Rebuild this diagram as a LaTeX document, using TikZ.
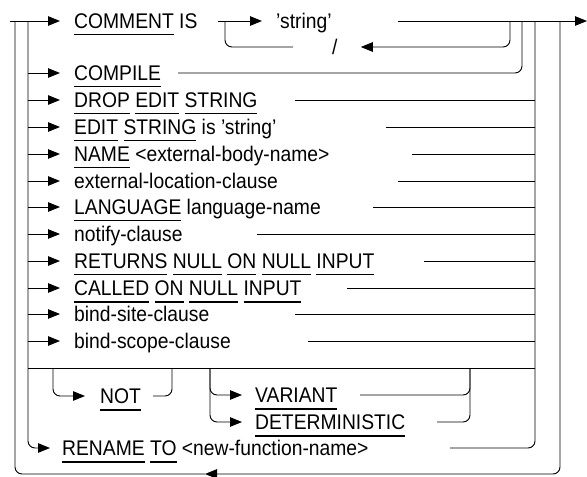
\documentclass[tikz,border=0pt]{standalone}
\usepackage{fontspec}
\setmainfont{Liberation Sans}[FakeStretch=0.91]
\usepackage{tikz}
\usetikzlibrary{arrows.meta, calc}

\newcommand{\kw}[1]{\setbox0=\hbox{#1}\rlap{\rule[-0.33em]{\wd0}{0.05em}}\box0\relax}

\tikzset{
    rail/.style={line width=0.95pt, rounded corners=7pt},
    arr/.style={rail, -{Triangle[length=12pt, width=9.5pt]}},
    syn/.style={anchor=west, inner sep=0pt, text height=15pt, text depth=0pt,
                font=\fontsize{21.2}{25}\selectfont}
}

\begin{document}
\begin{tikzpicture}[x=1pt, y=-1pt]
    \useasboundingbox (0,0) rectangle (587,477);
    \coordinate (in) at (10,21);
    \coordinate (out) at (587,21);
    \coordinate (oL) at (15,21);
    \coordinate (iL) at (28,21);
    \coordinate (lpL) at (225,21);
    \coordinate (lpR) at (510,21);
    \coordinate (cR) at (522,21);
    \coordinate (iR) at (535,21);
    \coordinate (oR) at (560,21);
    \coordinate (back) at (205,474);

    % COMMENT IS 'string' with repeat
    \node[syn] (comment) at (74,21) {\kw{COMMENT} IS};
    \node[syn] (str) at (276,21) {'string'};
    \node[syn] (slash) at (332,47) {/};
    \draw[arr] (in) -- ([xshift=-14pt]comment.west);
    \draw[arr] ([xshift=20pt]comment.east) -- ([xshift=-14pt]str.west);
    \draw[arr] ([xshift=66pt]str.east) -- (out);
    \draw[arr] (lpR) |- ([xshift=23pt]slash.east);
    \draw[rail] ([xshift=-39pt]slash.west) -| (lpL);

    \node[syn] (compile) at (74,73) {\kw{COMPILE}};
    \coordinate (compTail) at (178,73);
    \draw[arr] (iL |- compile.west) -- ([xshift=-14pt]compile.west);
    \draw[rail] (compTail) -| (cR);

    \foreach \y/\txt/\tail [count=\i] in {
        100/{\kw{DROP} \kw{EDIT} \kw{STRING}}/295,
        127/{\kw{EDIT} \kw{STRING} is 'string'}/386,
        154/{\kw{NAME} <external-body-name>}/412,
        181/{external-location-clause}/398,
        207/{\kw{LANGUAGE} language-name}/373,
        234/{notify-clause}/257,
        261/{\kw{RETURNS} \kw{NULL} \kw{ON} \kw{NULL} \kw{INPUT}}/424,
        288/{\kw{CALLED} \kw{ON} \kw{NULL} \kw{INPUT}}/347,
        314/{bind-site-clause}/295,
        341/{bind-scope-clause}/308}{
        \node[syn] (t\i) at (74,\y) {\txt};
        \coordinate (tail\i) at (\tail,\y);
        \draw[arr] (iL |- t\i.west) -- ([xshift=-14pt]t\i.west);
        \draw[rail] (tail\i) -- (iR |- tail\i);
    }

    % NOT VARIANT / DETERMINISTIC
    \coordinate (optL) at (28,368);
    \coordinate (optR) at (535,368);
    \coordinate (notL) at (53,368);
    \coordinate (notR) at (172,368);
    \coordinate (vdL) at (210,368);
    \coordinate (vdR) at (470,368);
    \coordinate (varTail) at (360,395);
    \coordinate (detTail) at (437,422);
    \draw[rail] (optL) -- (optR);
    \node[syn] (not) at (100,396) {\kw{NOT}};
    \draw[arr] (notL) |- ([xshift=-15pt]not.west);
    \draw[rail] ([xshift=12pt]not.east) -| (notR);
    \node[syn] (var) at (255,395) {\kw{VARIANT}};
    \node[syn] (det) at (255,422) {\kw{DETERMINISTIC}};
    \draw[arr] (vdL) |- ([xshift=-13pt]var.west);
    \draw[arr] (vdL) |- ([xshift=-13pt]det.west);
    \draw[rail] (varTail) -| (vdR);
    \draw[rail] (detTail) -| (vdR);

    \node[syn] (rename) at (62,448) {\kw{RENAME} \kw{TO} <new-function-name>};
    \coordinate (renTail) at (450,448);
    \draw[arr] (iL) |- ([xshift=-12pt]rename.west);
    \draw[rail] (renTail) -| (iR);

    % loop back
    \draw[arr] (oR) |- (back);
    \draw[rail] (back) -| (oL);
\end{tikzpicture}
\end{document}
